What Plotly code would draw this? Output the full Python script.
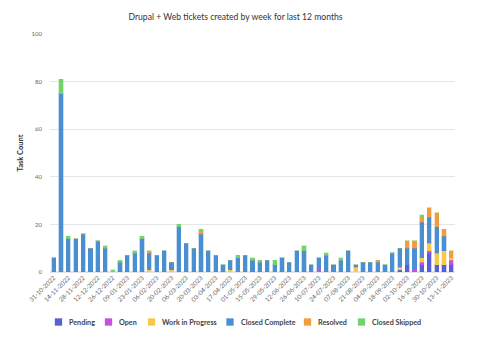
import datetime as dt
import plotly.graph_objects as go

start = dt.date(2022, 10, 31)
weeks = [(start + dt.timedelta(days=7 * i)).strftime("%d-%m-%Y") for i in range(55)]

def series(d):
    return [d.get(i, 0) for i in range(55)]

pending = series({47: 1, 48: 3, 50: 3, 51: 8, 52: 3, 53: 3, 54: 3})
open_ = series({36: 1, 49: 1, 50: 1, 51: 1, 54: 2})
wip = series({13: 1, 16: 1, 24: 1, 41: 2, 47: 1, 50: 2, 51: 3, 52: 5, 53: 6, 54: 1})
closed_complete = [6, 75, 14, 14, 16, 10, 13, 10, 0, 4, 7, 8, 14, 7, 7, 9, 3, 19, 12, 10,
                   16, 9, 7, 3, 4, 6, 7, 5, 4, 5, 3, 6, 4, 9, 9, 3, 5, 7, 3, 5,
                   9, 1, 4, 4, 4, 3, 8, 8, 7, 9, 15, 11, 11, 6, 0]
resolved = series({13: 1, 20: 1, 44: 1, 48: 3, 49: 3, 50: 2, 51: 4, 52: 6, 53: 3, 54: 3})
closed_skipped = series({1: 6, 2: 1, 7: 1, 8: 1, 9: 1, 11: 1, 12: 1, 17: 1, 20: 1, 25: 1,
                         27: 1, 28: 1, 30: 2, 34: 2, 37: 1, 39: 1, 50: 1})

names = ["Pending", "Open", "Work in Progress", "Closed Complete", "Resolved", "Closed Skipped"]
values = [pending, open_, wip, closed_complete, resolved, closed_skipped]
colors = ["#5660d8", "#c94fe0", "#f9c84a", "#4a8fd2", "#f49a40", "#72d36c"]
halo = ["rgba(86,96,216,0.3)", "rgba(201,79,224,0.3)", "rgba(249,200,74,0.3)",
        "rgba(74,143,210,0.3)", "rgba(244,154,64,0.3)", "rgba(114,211,108,0.3)"]

tick_labels = weeks[::2]

W, H = 480, 337
ML, MR, MT, MB = 50, 25, 34, 65
PW, PH = W - ML - MR, H - MT - MB

def px_to_paper(px, py):
    return (px - ML) / PW, (H - MB - py) / PH

fig = go.Figure()
for n, v, c, h in zip(names, values, colors, halo):
    fig.add_trace(go.Bar(x=weeks, y=v, name=n, showlegend=False,
                         marker=dict(color=c, line=dict(color=h, width=1.2))))

font = "Lato, 'Open Sans', sans-serif"

# custom compact legend (symbol + label), positions in pixels
legend_left_px = [55, 105, 148, 226.5, 304, 358]
legend_y_px = 322
shapes, annotations = [], []
for n, c, h, lx in zip(names, colors, halo, legend_left_px):
    x0, y0 = px_to_paper(lx, legend_y_px + 3.5)
    x1, y1 = px_to_paper(lx + 7, legend_y_px - 3.5)
    shapes.append(dict(type="rect", xref="paper", yref="paper", x0=x0, x1=x1, y0=y0, y1=y1,
                       fillcolor=c, line=dict(color=h, width=1)))
    tx, ty = px_to_paper(lx + 12, legend_y_px)
    annotations.append(dict(text=n, xref="paper", yref="paper", x=tx, y=ty, xanchor="left",
                            yanchor="middle", showarrow=False,
                            font=dict(size=7.2, color="#444", family=font, weight="bold")))

fig.update_layout(
    barmode="stack",
    bargap=0.45,
    width=W, height=H,
    margin=dict(l=ML, r=MR, t=MT, b=MB),
    paper_bgcolor="white", plot_bgcolor="white",
    font=dict(family=font, color="#555"),
    title=dict(text="Drupal + Web tickets created by week for last 12 months",
               x=(235.5 - ML) / PW, xref="paper", xanchor="center", y=1 - 17 / H, yref="container",
               yanchor="middle", font=dict(size=8.6, color="#333", family=font)),
    showlegend=False,
    shapes=shapes,
    annotations=annotations,
)
fig.update_xaxes(type="category", tickmode="array", tickvals=tick_labels, ticktext=tick_labels,
                 tickangle=-45, tickfont=dict(size=6.3, color="#666"), showgrid=False,
                 showline=False, ticks="", ticklen=0)
fig.update_yaxes(range=[0, 100], dtick=20, tickfont=dict(size=6, color="#666"),
                 ticklabelstandoff=7,
                 gridcolor="#e5e5e5", gridwidth=1, zeroline=True, zerolinecolor="#e5e5e5",
                 title=dict(text="Task Count", font=dict(size=7.5, color="#333", weight="bold"), standoff=6))

fig.write_html("out.html")
